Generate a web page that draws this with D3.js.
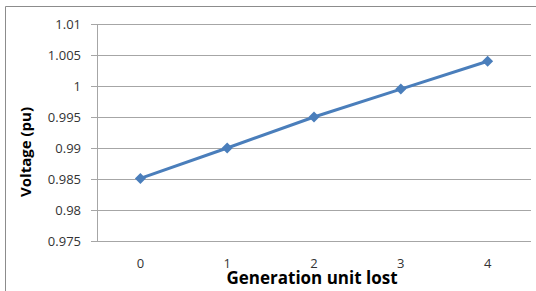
<!DOCTYPE html>
<html>
<head>
<meta charset="utf-8">
<script src="https://cdn.jsdelivr.net/npm/d3@7"></script>
<style>
  body { margin: 0; background: #fff; }
  svg { display: block; }
</style>
</head>
<body>
<figure id="chart" style="margin:0"></figure>
<script>
const units = [0, 1, 2, 3, 4];
const voltage = [0.9851, 0.990, 0.995, 0.9995, 1.004];
const yTicks = [0.975, 0.98, 0.985, 0.99, 0.995, 1, 1.005, 1.01];

const W = 536, H = 291;
const margin = { top: 24, right: 5, bottom: 50, left: 97 };
const width = W - margin.left - margin.right;
const height = H - margin.top - margin.bottom;

const svg = d3.select("figure#chart")
  .append("svg")
  .attr("width", W)
  .attr("height", H);

// outer chart border (only left and top visible in the picture)
svg.append("path")
  .attr("d", "M5.5," + H + "V6.5H" + W)
  .attr("fill", "none")
  .attr("stroke", "#8c8c8c")
  .attr("stroke-width", 1);

const g = svg.append("g")
  .attr("transform", "translate(" + margin.left + "," + margin.top + ")");

const x = d3.scaleBand()
  .domain(units)
  .range([0, width]);

const y = d3.scaleLinear()
  .domain([0.975, 1.01])
  .range([height, 0]);

// gridlines
g.append("g")
  .selectAll("line")
  .data(yTicks)
  .enter()
  .append("line")
  .attr("x1", -6)
  .attr("x2", width)
  .attr("y1", d => Math.round(y(d)) + 0.5)
  .attr("y2", d => Math.round(y(d)) + 0.5)
  .attr("stroke", "#a6a6a6");

// y axis
const yAxis = g.append("g")
  .call(d3.axisLeft(y).tickValues(yTicks).tickFormat(d => d3.format("")(+d.toFixed(3))).tickSize(0).tickPadding(16));
yAxis.select(".domain").attr("stroke", "#a6a6a6").attr("d", "M0.5," + height + "V0");
yAxis.selectAll("text")
  .attr("font-family", "'Open Sans', sans-serif")
  .attr("font-size", 13)
  .attr("fill", "#333");

// x axis
const xAxis = g.append("g")
  .attr("transform", "translate(0," + height + ")")
  .call(d3.axisBottom(x).tickSize(0).tickPadding(18));
xAxis.select(".domain").remove();
xAxis.selectAll("text")
  .attr("font-family", "'Open Sans', sans-serif")
  .attr("font-size", 13)
  .attr("fill", "#333");

// line
const line = d3.line()
  .x((d, i) => x(units[i]) + x.bandwidth() / 2)
  .y(d => y(d));

g.append("path")
  .datum(voltage)
  .attr("d", line)
  .attr("fill", "none")
  .attr("stroke", "#4a7ebb")
  .attr("stroke-width", 3);

// diamond markers
g.selectAll(".marker")
  .data(voltage)
  .enter()
  .append("path")
  .attr("class", "marker")
  .attr("transform", (d, i) => "translate(" + (x(units[i]) + x.bandwidth() / 2) + "," + y(d) + ")")
  .attr("d", "M0,-5.5L5.5,0L0,5.5L-5.5,0Z")
  .attr("fill", "#4a7ebb");

// axis titles
svg.append("text")
  .attr("x", 312)
  .attr("y", 284)
  .attr("text-anchor", "middle")
  .attr("font-family", "'Open Sans', sans-serif")
  .attr("font-weight", "bold")
  .attr("font-size", 17)
  .text("Generation unit lost");

svg.append("text")
  .attr("transform", "translate(31,152) rotate(-90)")
  .attr("text-anchor", "middle")
  .attr("font-family", "'Open Sans', sans-serif")
  .attr("font-weight", "bold")
  .attr("font-size", 15)
  .text("Voltage (pu)");
</script>
</body>
</html>
